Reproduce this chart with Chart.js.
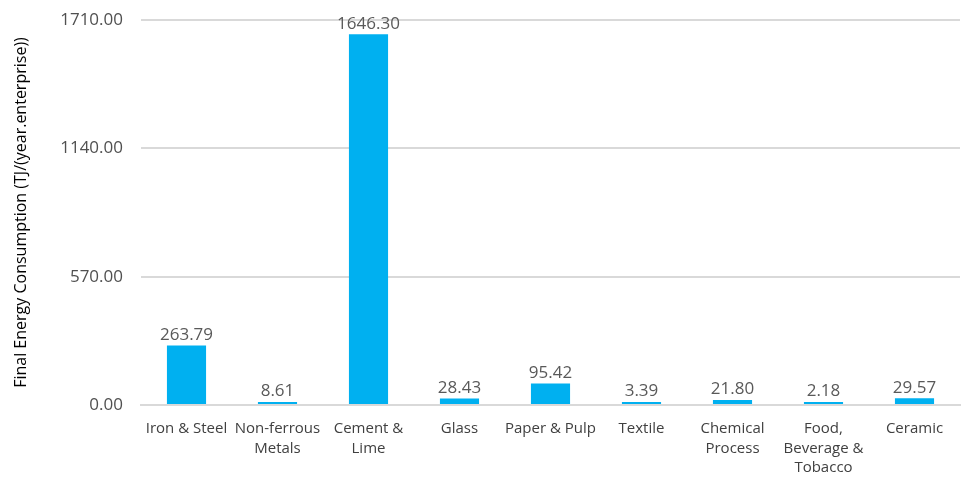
<!DOCTYPE html>
<html>
<head>
<meta charset="utf-8">
<script src="https://cdn.jsdelivr.net/npm/chart.js@4"></script>
<style>
  html, body { margin: 0; padding: 0; background: #fff; }
  #wrap { width: 962px; height: 483px; }
</style>
</head>
<body>
<div id="wrap"><canvas id="energyChart" width="962" height="483"></canvas></div>
<script>
// sectors on the x axis (multi-line labels)
const categories = [
  ["Iron & Steel"],
  ["Non-ferrous", "Metals"],
  ["Cement &", "Lime"],
  ["Glass"],
  ["Paper & Pulp"],
  ["Textile"],
  ["Chemical", "Process"],
  ["Food,", "Beverage &", "Tobacco"],
  ["Ceramic"],
];

// TJ per year per enterprise
const energyValues = [263.79, 8.61, 1646.3, 28.43, 95.42, 3.39, 21.8, 2.18, 29.57];

const yTicks = [0, 570, 1140, 1710];
const yTitle = "Final Energy Consumption (TJ/(year.enterprise))";

const fontFamily = "'Open Sans', 'Liberation Sans', sans-serif";

// draw the value above each bar
const valueLabels = {
  id: "valueLabels",
  afterDatasetsDraw(chart) {
    const ctx = chart.ctx;
    const meta = chart.getDatasetMeta(0);
    ctx.save();
    ctx.font = "17px " + fontFamily;
    ctx.fillStyle = "#595959";
    ctx.textAlign = "center";
    ctx.textBaseline = "bottom";
    meta.data.forEach((bar, i) => {
      ctx.fillText(energyValues[i].toFixed(2), bar.x, bar.y - 2);
    });
    ctx.restore();
  },
};

const ctx = document.getElementById("energyChart").getContext("2d");
new Chart(ctx, {
  type: "bar",
  data: {
    labels: categories,
    datasets: [
      {
        data: energyValues,
        backgroundColor: "#00B0F0",
        borderWidth: 0,
        minBarLength: 3,
        categoryPercentage: 1,
        barPercentage: 0.43,
      },
    ],
  },
  options: {
    responsive: false,
    animation: false,
    layout: { padding: { top: 20, right: 2, left: 12, bottom: 0 } },
    plugins: { legend: { display: false }, tooltip: { enabled: false } },
    scales: {
      x: {
        grid: { display: false },
        border: { color: "#d9d9d9", width: 2 },
        ticks: {
          color: "#404040",
          font: { family: fontFamily, size: 15, lineHeight: 1.3 },
          maxRotation: 0,
          autoSkip: false,
          padding: 6,
        },
        afterFit: (s) => { s.height = 78; },
      },
      y: {
        min: 0,
        max: 1710,
        afterBuildTicks: (s) => { s.ticks = yTicks.map((v) => ({ value: v })); },
        grid: { color: "#d9d9d9", lineWidth: 2, drawTicks: false },
        border: { display: false },
        ticks: {
          color: "#505050",
          font: { family: fontFamily, size: 17 },
          padding: 18,
          callback: (v) => Number(v).toFixed(2),
        },
        title: {
          display: true,
          text: yTitle,
          color: "#000",
          font: { family: fontFamily, size: 16 },
          padding: { top: 0, bottom: 0 },
        },
        afterFit: (s) => {
          s.width = 129;
          s.paddingTop = 0;
          s.paddingBottom = 0;
        },
      },
    },
  },
  plugins: [valueLabels],
});
</script>
</body>
</html>
